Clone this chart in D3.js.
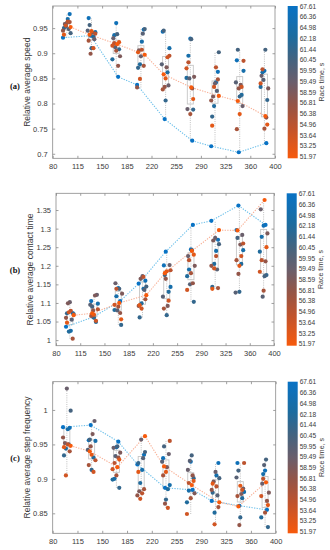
<!DOCTYPE html>
<html>
<head>
<meta charset="utf-8">
<script src="https://cdn.jsdelivr.net/npm/d3@7"></script>
<style>
  body { margin: 0; background: #fff; }
  svg { display: block; font-family: "Liberation Sans", Arial, sans-serif; }
</style>
</head>
<body>
<div id="chart"></div>
<script>
// athletes, ordered as on the colour bar (top to bottom)
var raceTimes = [67.61, 66.36, 64.98, 62.18, 61.44, 60.45, 59.95, 59.49, 58.59, 56.81, 56.38, 54.96, 53.64, 53.25, 51.97];
var distances = [100, 135, 170, 205, 240, 275, 310, 345, 380];
var xTicks = [80, 115, 150, 185, 220, 255, 290, 325, 360, 395];
var xTickLabels = ["80", "115", "150", "185", "220", "255", "290", "325", "360", "400"];

// one row per distance, one value per athlete (same order as raceTimes)
var speed = [
  [0.931,0.978,0.968,0.953,0.950,0.940,0.948,0.960,0.958,0.945,0.962,0.963,0.955,0.937,0.952],
  [0.935,0.970,0.942,0.933,0.910,0.956,0.945,0.928,0.941,0.899,0.925,0.939,0.910,0.944,0.937],
  [0.853,0.960,0.936,0.888,0.908,0.938,0.912,0.930,0.894,0.875,0.905,0.920,0.915,0.922,0.918],
  [0.837,0.947,0.923,0.878,0.871,0.948,0.939,0.894,0.906,0.832,0.875,0.907,0.849,0.902,0.897],
  [0.769,0.943,0.910,0.862,0.806,0.945,0.878,0.836,0.872,0.833,0.828,0.895,0.892,0.850,0.858],
  [0.726,0.929,0.895,0.851,0.788,0.928,0.850,0.789,0.853,0.830,0.779,0.882,0.870,0.809,0.832],
  [0.715,0.863,0.842,0.795,0.774,0.902,0.825,0.840,0.814,0.806,0.848,0.872,0.833,0.756,0.815],
  [0.703,0.886,0.865,0.817,0.814,0.907,0.842,0.795,0.837,0.830,0.749,0.885,0.833,0.779,0.805],
  [0.721,0.865,0.862,0.833,0.807,0.907,0.847,0.855,0.830,0.772,0.750,0.868,0.840,0.758,0.775]
];
var contact = [
  [1.036,1.073,1.025,1.023,1.072,1.070,1.055,1.102,1.099,1.060,1.004,1.079,1.075,1.047,1.067],
  [1.062,1.105,1.098,1.049,1.060,1.090,1.095,1.122,1.120,1.080,1.065,1.083,1.052,1.068,1.072],
  [1.105,1.140,1.118,1.081,1.041,1.138,1.080,1.153,1.125,1.073,1.090,1.138,1.095,1.056,1.100],
  [1.152,1.160,1.138,1.099,1.061,1.144,1.135,1.172,1.165,1.092,1.110,1.170,1.085,1.094,1.121],
  [1.238,1.201,1.143,1.130,1.067,1.175,1.117,1.202,1.092,1.165,1.085,1.188,1.106,1.185,1.180],
  [1.310,1.244,1.190,1.172,1.103,1.242,1.150,1.226,1.200,1.153,1.180,1.215,1.135,1.230,1.240],
  [1.321,1.270,1.240,1.205,1.143,1.258,1.190,1.275,1.268,1.200,1.140,1.226,1.193,1.138,1.296],
  [1.362,1.296,1.242,1.205,1.130,1.275,1.128,1.283,1.257,1.178,1.215,1.260,1.226,1.200,1.295],
  [1.310,1.308,1.278,1.238,1.175,1.172,1.117,1.352,1.287,1.212,1.133,1.215,1.184,1.250,1.377]
];
var stepFreq = [
  [0.975,0.974,0.972,0.944,0.934,0.999,0.950,1.031,0.952,0.960,0.940,0.950,0.905,0.946,0.948],
  [0.978,0.956,0.955,0.931,0.913,0.957,0.942,0.984,0.965,0.947,0.920,0.927,0.910,0.935,0.940],
  [0.954,0.946,0.900,0.899,0.887,0.947,0.933,0.945,0.938,0.931,0.905,0.923,0.914,0.928,0.917],
  [0.921,0.935,0.913,0.894,0.923,0.939,0.930,0.957,0.882,0.876,0.885,0.879,0.871,0.910,0.962],
  [0.887,0.930,0.891,0.885,0.870,0.947,0.925,0.936,0.917,0.864,0.905,0.955,0.858,0.910,0.918],
  [0.884,0.925,0.883,0.866,0.901,0.934,0.926,0.913,0.879,0.905,0.872,0.894,0.849,0.897,0.891],
  [0.868,0.923,0.905,0.851,0.880,0.901,0.876,0.910,0.896,0.884,0.859,0.889,0.834,0.893,0.866],
  [0.861,0.923,0.881,0.872,0.844,0.912,0.902,0.886,0.878,0.833,0.875,0.923,0.884,0.890,0.860],
  [0.855,0.912,0.907,0.844,0.830,0.928,0.920,0.893,0.880,0.868,0.851,0.900,0.875,0.862,0.895]
];

var speedTicks = [0.7, 0.75, 0.8, 0.85, 0.9, 0.95];
var contactTicks = [1, 1.05, 1.1, 1.15, 1.2, 1.25, 1.3, 1.35];
var stepTicks = [0.85, 0.9, 0.95, 1];

var W = 330, H = 550;

var svg = d3.select('#chart').append('svg')
  .attr('width', W)
  .attr('height', H);

// colour map: evenly spaced along the bar, like the tick labels
var colorPos = d3.scalePoint().domain(raceTimes.slice().reverse()).range([0, 1]);
var colorRamp = d3.scaleLinear()
  .domain([0, 0.2, 0.36, 0.5, 0.64, 0.8, 1])
  .range(['#f75a0c', '#c0532c', '#925548', '#6a5f6c', '#46637e', '#1c6c9f', '#0872c4']);
function timeColor(t){ return colorRamp(colorPos(t)); }

var defs = svg.append('defs');
var grad = defs.append('linearGradient')
  .attr('id', 'cbar')
  .attr('x1', 0).attr('y1', 0).attr('x2', 0).attr('y2', 1);
d3.range(0, 1.001, 0.05).forEach(function(o){
  grad.append('stop').attr('offset', o).attr('stop-color', colorRamp(1 - o));
});

var panels = [
  { tag: '(a)', title: 'Relative average speed', data: speed, yDomain: [0.691, 0.994], yTicks: speedTicks,
    fx0: 52.7, fx1: 275, fy0: 6, fy1: 158.3, cx0: 287.7, titleX: 30, tagY: 87 },
  { tag: '(b)', title: 'Relative average contact time', data: contact, yDomain: [0.985, 1.395], yTicks: contactTicks,
    fx0: 56, fx1: 274, fy0: 193.3, fy1: 345.7, cx0: 286.7, titleX: 33, tagY: 271 },
  { tag: '(c)', title: 'Relative average step frequency', data: stepFreq, yDomain: [0.821, 1.041], yTicks: stepTicks,
    fx0: 52.7, fx1: 275.7, fy0: 381.7, fy1: 533.3, cx0: 287.7, titleX: 30, tagY: 459 }
];

function jitter(g, i){
  return (((i * 7 + g * 3) % 9) - 4) * 0.95;
}

panels.forEach(function(p){
  var x = d3.scaleLinear().domain([80, 395]).range([p.fx0, p.fx1]);
  var y = d3.scaleLinear().domain(p.yDomain).range([p.fy1, p.fy0]);
  var g = svg.append('g');

  // axes (ticks pointing in, MATLAB style)
  var fmt = function(d){ return String(+d.toFixed(2)); };
  g.append('g')
    .attr('transform', 'translate(0,' + p.fy1 + ')')
    .call(d3.axisBottom(x).tickValues(xTicks).tickSize(-2.5).tickPadding(5)
      .tickFormat(function(d, i){ return xTickLabels[i]; }));
  g.append('g')
    .attr('transform', 'translate(0,' + p.fy0 + ')')
    .call(d3.axisTop(x).tickValues(xTicks).tickSize(-2.5).tickFormat(''));
  g.append('g')
    .attr('transform', 'translate(' + p.fx0 + ',0)')
    .call(d3.axisLeft(y).tickValues(p.yTicks).tickSize(-2.5).tickPadding(5).tickFormat(fmt));
  g.append('g')
    .attr('transform', 'translate(' + p.fx1 + ',0)')
    .call(d3.axisRight(y).tickValues(p.yTicks).tickSize(-2.5).tickFormat(''));

  g.selectAll('.domain').remove();
  g.selectAll('.tick line').attr('stroke', '#777').attr('stroke-width', 0.7);
  g.selectAll('.tick text')
    .attr('fill', '#3a3a3a')
    .style('font-size', '7.5px');

  g.append('rect')
    .attr('x', p.fx0).attr('y', p.fy0)
    .attr('width', p.fx1 - p.fx0).attr('height', p.fy1 - p.fy0)
    .attr('fill', 'none')
    .attr('stroke', '#8a8a8a')
    .attr('stroke-width', 0.8);

  // box plots
  p.data.forEach(function(vals, gi){
    var s = vals.slice().sort(d3.ascending);
    var cx = x(distances[gi]);
    g.append('line')
      .attr('x1', cx).attr('x2', cx)
      .attr('y1', y(s[0])).attr('y2', y(s[s.length - 1]))
      .attr('stroke', '#b0b0b0')
      .attr('stroke-width', 0.8)
      .attr('stroke-dasharray', '1,1.2');
    var q1 = d3.quantile(s, 0.25), q3 = d3.quantile(s, 0.75);
    g.append('rect')
      .attr('x', cx - 3).attr('width', 6)
      .attr('y', y(q3)).attr('height', y(q1) - y(q3))
      .attr('fill', 'none')
      .attr('stroke', '#c6c6c6')
      .attr('stroke-width', 0.9);
  });

  // dotted lines for slowest (blue) and fastest (orange) athlete
  var line = d3.line()
    .x(function(d){ return x(distances[d.g]) + jitter(d.g, d.i); })
    .y(function(d){ return y(d.v); });

  [[0, '#6ec0ea'], [raceTimes.length - 1, '#f8b096']].forEach(function(l){
    var pts = p.data.map(function(vals, gi){ return { g: gi, i: l[0], v: vals[l[0]] }; });
    g.append('path')
      .attr('d', line(pts))
      .attr('fill', 'none')
      .attr('stroke', l[1])
      .attr('stroke-width', 1.1)
      .attr('stroke-dasharray', '1.3,1.3');
  });

  // points
  p.data.forEach(function(vals, gi){
    g.selectAll(null)
      .data(vals.map(function(v, i){ return { g: gi, i: i, v: v }; }))
      .enter()
      .append('circle')
      .attr('cx', function(d){ return x(distances[d.g]) + jitter(d.g, d.i); })
      .attr('cy', function(d){ return y(d.v); })
      .attr('r', 2.1)
      .attr('fill', function(d){ return timeColor(raceTimes[d.i]); });
  });

  // y title
  g.append('text')
    .attr('transform', 'translate(' + p.titleX + ',' + ((p.fy0 + p.fy1) / 2) + ') rotate(-90)')
    .attr('text-anchor', 'middle')
    .attr('fill', '#3a3a3a')
    .style('font-size', '8.5px')
    .text(p.title);

  // panel tag
  g.append('text')
    .attr('x', 15).attr('y', p.tagY)
    .attr('text-anchor', 'middle')
    .attr('dominant-baseline', 'middle')
    .attr('fill', '#111')
    .style('font-family', '"Liberation Serif", "Times New Roman", serif')
    .style('font-weight', 'bold')
    .style('font-size', '8.5px')
    .text(p.tag);

  // colour bar
  var cw = 10;
  g.append('rect')
    .attr('x', p.cx0).attr('y', p.fy0)
    .attr('width', cw).attr('height', p.fy1 - p.fy0)
    .attr('fill', 'url(#cbar)');
  var cy = d3.scalePoint().domain(raceTimes).range([p.fy0 + 1, p.fy1 - 1]);
  g.selectAll(null)
    .data(raceTimes)
    .enter()
    .append('text')
    .attr('x', p.cx0 + cw + 2)
    .attr('y', function(d){ return cy(d); })
    .attr('dominant-baseline', 'middle')
    .attr('fill', '#3a3a3a')
    .style('font-size', '6.6px')
    .text(function(d){ return d.toFixed(2); });

  g.append('text')
    .attr('transform', 'translate(' + (p.cx0 + cw + 26) + ',' + ((p.fy0 + p.fy1) / 2) + ') rotate(-90)')
    .attr('text-anchor', 'middle')
    .attr('fill', '#3a3a3a')
    .style('font-size', '7px')
    .text('Race time, s');
});
</script>
</body>
</html>
